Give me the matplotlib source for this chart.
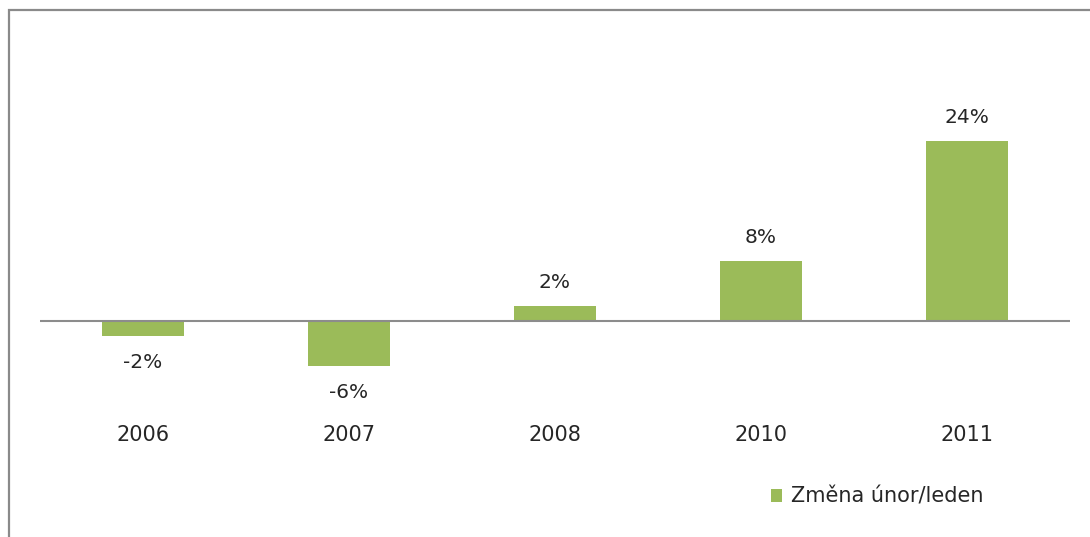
import matplotlib
matplotlib.use('Agg')
import matplotlib.pyplot as plt
from matplotlib.patches import Rectangle

years = ['2006', '2007', '2008', '2010', '2011']
change_pct = [-2, -6, 2, 8, 24]
series_name = 'Změna únor/leden'

BAR_GREEN = '#9bbb59'
LINE_GREY = '#8c8c8c'
TEXT = '#262626'

plt.rcParams['font.family'] = ['DejaVu Sans']

W, H = 1090, 537
fig = plt.figure(figsize=(W / 100, H / 100), dpi=100)

# axes placed in pixel terms so the zero line sits where the frame layout wants it
left, right, top, bottom = 40, 1070, 30, 424
ax = fig.add_axes([left / W, 1 - bottom / H, (right - left) / W, (bottom - top) / H])

zero_px = 321
px_per_unit = 7.5
ax.set_ylim(-(bottom - zero_px) / px_per_unit, (zero_px - top) / px_per_unit)
ax.set_xlim(-0.5, len(years) - 0.5)

x = range(len(years))
bars = ax.bar(x, change_pct, width=0.4, color=BAR_GREEN, label=series_name, zorder=2)
ax.axhline(0, color=LINE_GREY, linewidth=1.5, zorder=3)

for xi, val in zip(x, change_pct):
    offset = 17 if val >= 0 else -19
    ax.annotate(f'{val}%', xy=(xi, val), xytext=(0, offset), textcoords='offset points',
                ha='center', va='center', fontsize=14.5, color=TEXT)

ax.set_xticks(list(x))
ax.set_xticklabels(years, fontsize=15, color=TEXT)
ax.tick_params(axis='x', length=0, pad=1)
ax.set_yticks([])
for spine in ax.spines.values():
    spine.set_visible(False)

fig.legend(handles=[bars], labels=[series_name], loc='center left',
           bbox_to_anchor=(752 / W, 1 - 497 / H), frameon=False,
           fontsize=15, handlelength=0.55, handleheight=0.55, handletextpad=0.4,
           labelcolor=TEXT)

# outer chart frame, runs off the right and bottom edges
fig.add_artist(Rectangle((9 / W, -0.02), 1.1, 1.02 - 10 / H, transform=fig.transFigure,
                         fill=False, edgecolor='#8a8a8a', linewidth=1.6))

fig.savefig('out.png', dpi=100)
